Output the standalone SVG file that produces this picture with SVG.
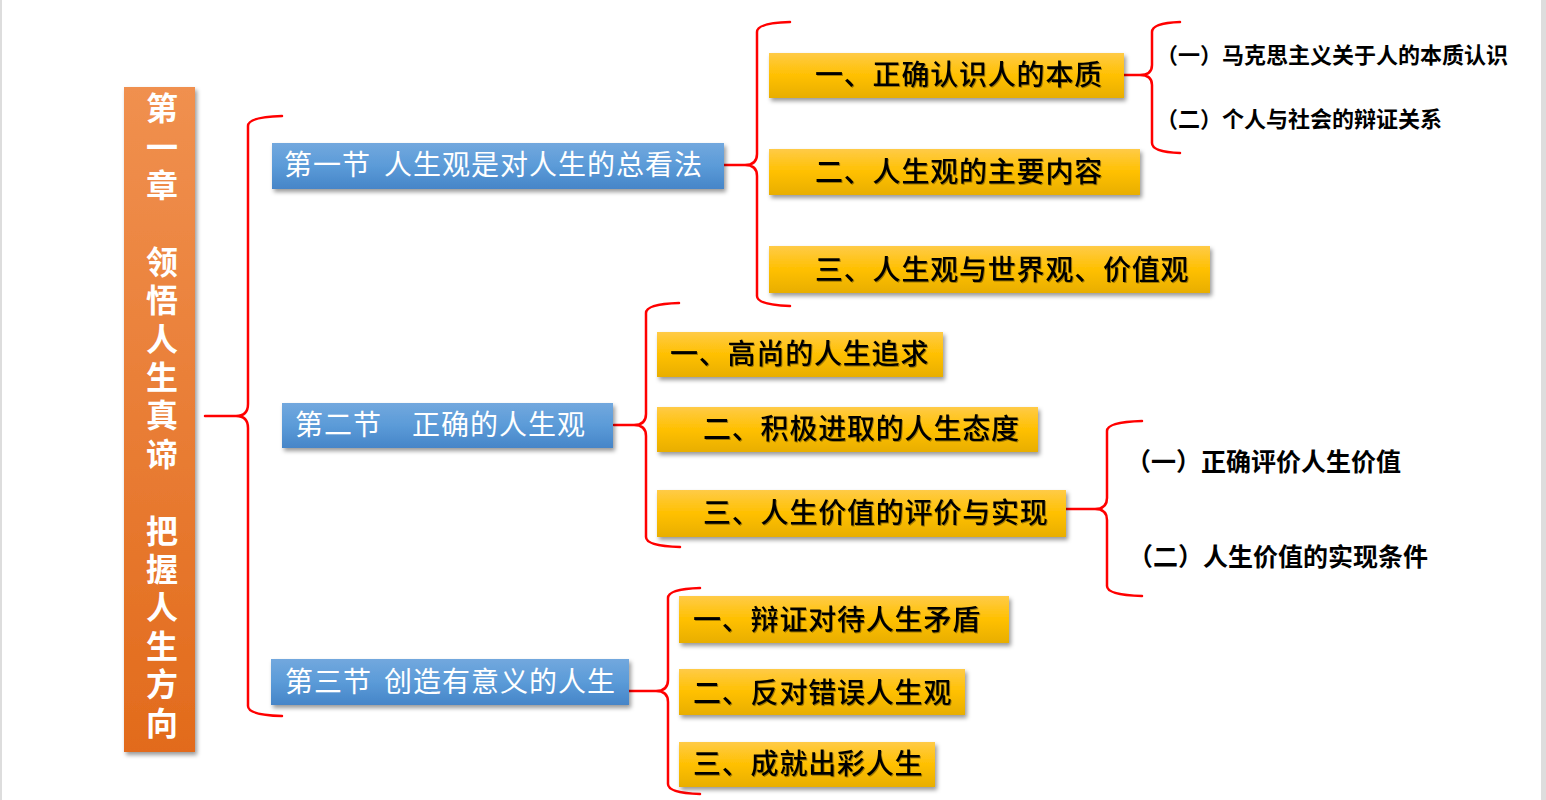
<svg xmlns="http://www.w3.org/2000/svg" width="1546" height="800" viewBox="0 0 1546 800">
<defs>
<linearGradient id="gOrange" x1="0" y1="0" x2="0" y2="1">
<stop offset="0" stop-color="#F0904F"/>
<stop offset="1" stop-color="#E26B1C"/>
</linearGradient>
<linearGradient id="gBlue" x1="0" y1="0" x2="0" y2="1">
<stop offset="0" stop-color="#72A8DE"/>
<stop offset="0.5" stop-color="#5B9BD8"/>
<stop offset="1" stop-color="#4685C8"/>
</linearGradient>
<linearGradient id="gYellow" x1="0" y1="0" x2="0" y2="1">
<stop offset="0" stop-color="#FFCB47"/>
<stop offset="0.5" stop-color="#FFC000"/>
<stop offset="1" stop-color="#E8AE00"/>
</linearGradient>
<filter id="sh" x="-10%" y="-20%" width="125%" height="160%">
<feDropShadow dx="2" dy="3" stdDeviation="2" flood-color="#000" flood-opacity="0.4"/>
</filter>
<filter id="tsh" x="-5%" y="-20%" width="110%" height="150%">
<feDropShadow dx="1" dy="1" stdDeviation="0.6" flood-color="#000" flood-opacity="0.35"/>
</filter>
</defs>
<style>
.br{fill:none;stroke:#FF0000;stroke-width:2.5;stroke-linecap:round;stroke-linejoin:round}
.or{fill:url(#gOrange);filter:url(#sh)}
.bl{fill:url(#gBlue);filter:url(#sh)}
.ye{fill:url(#gYellow);filter:url(#sh)}
.ot{font-family:"Noto Sans CJK SC","Noto Sans CJK JP",sans-serif;font-size:32px;font-weight:bold;fill:#FFFFFF;writing-mode:vertical-rl;letter-spacing:6.4px}
.bt{font-family:"Noto Sans CJK SC","Noto Sans CJK JP",sans-serif;font-size:28px;font-weight:400;fill:#FFFFFF;letter-spacing:1px}
.yt{font-family:"Noto Sans CJK SC","Noto Sans CJK JP",sans-serif;font-size:28px;font-weight:500;fill:#000000;letter-spacing:0.8px;filter:url(#tsh)}
.rt{font-family:"Noto Sans CJK SC","Noto Sans CJK JP",sans-serif;font-weight:bold;fill:#000000}
</style>
<rect x="0" y="0" width="1546" height="800" fill="#FFFFFF"/>
<rect x="0" y="0" width="2" height="800" fill="#DDDDDD"/>
<rect x="1541" y="0" width="5" height="800" fill="#DDDDDD"/>

<g id="connectors">
<path class="br" d="M205,416 L236,416 Q248,416 248,404 L248,126 Q248,117 282,116 M236,416 Q248,416 248,428 L248,706 Q248,715 282,716"/>
<path class="br" d="M724,165 L745,165 Q757,165 757,154 L757,32 Q757,23 790,22 M745,165 Q757,165 757,176 L757,296 Q757,305 790,306"/>
<path class="br" d="M1124,75 L1140,75 Q1152,75 1152,65 L1152,32 Q1152,23 1180,22 M1140,75 Q1152,75 1152,85 L1152,143 Q1152,152 1180,153"/>
<path class="br" d="M614,425 L634,425 Q646,425 646,414 L646,313 Q646,304 679,303 M634,425 Q646,425 646,436 L646,537 Q646,546 680,547"/>
<path class="br" d="M1066,509 L1095,509 Q1107,509 1107,498 L1107,431 Q1107,422 1142,421 M1095,509 Q1107,509 1107,520 L1107,586 Q1107,595 1142,596"/>
<path class="br" d="M629,691 L656,691 Q668,691 668,680 L668,598 Q668,589 700,588 M656,691 Q668,691 668,702 L668,784 Q668,793 700,794"/>
</g>

<g id="chapter">
<rect class="or" x="124" y="87" width="71" height="665"/>
<text class="ot" x="162" y="92">第一章　领悟人生真谛　把握人生方向</text>
</g>

<g id="sec1">
<rect class="bl" x="272" y="143" width="452" height="46"/>
<text class="bt" x="284" y="175">第一节<tspan x="384">人生观是对人生的总看法</tspan></text>
</g>
<g id="sec2">
<rect class="bl" x="282" y="403" width="331" height="45"/>
<text class="bt" x="295" y="435">第二节<tspan x="412">正确的人生观</tspan></text>
</g>
<g id="sec3">
<rect class="bl" x="271" y="659" width="358" height="46"/>
<text class="bt" x="285" y="692">第三节<tspan x="384">创造有意义的人生</tspan></text>
</g>

<g id="s1a">
<rect class="ye" x="769" y="53" width="355" height="45"/>
<text class="yt" x="815" y="85">一、正确认识人的本质</text>
</g>
<g id="s1b">
<rect class="ye" x="769" y="149" width="371" height="46"/>
<text class="yt" x="815" y="182">二、人生观的主要内容</text>
</g>
<g id="s1c">
<rect class="ye" x="769" y="246" width="441" height="47"/>
<text class="yt" x="815" y="280">三、人生观与世界观、价值观</text>
</g>

<g id="s2a">
<rect class="ye" x="657" y="332" width="286" height="45"/>
<text class="yt" x="670" y="364">一、高尚的人生追求</text>
</g>
<g id="s2b">
<rect class="ye" x="657" y="407" width="381" height="45"/>
<text class="yt" x="703" y="439">二、积极进取的人生态度</text>
</g>
<g id="s2c">
<rect class="ye" x="657" y="490" width="409" height="47"/>
<text class="yt" x="703" y="523">三、人生价值的评价与实现</text>
</g>

<g id="s3a">
<rect class="ye" x="679" y="596" width="330" height="47"/>
<text class="yt" x="693" y="630">一、辩证对待人生矛盾</text>
</g>
<g id="s3b">
<rect class="ye" x="679" y="669" width="286" height="46"/>
<text class="yt" x="693" y="703">二、反对错误人生观</text>
</g>
<g id="s3c">
<rect class="ye" x="679" y="742" width="256" height="45"/>
<text class="yt" x="693" y="774">三、成就出彩人生</text>
</g>

<g id="t1a">
<text class="rt" x="1156" y="63" font-size="22">（一）马克思主义关于人的本质认识</text>
</g>
<g id="t1b">
<text class="rt" x="1156" y="127" font-size="22">（二）个人与社会的辩证关系</text>
</g>
<g id="t2a">
<text class="rt" x="1126" y="471" font-size="25">（一）正确评价人生价值</text>
</g>
<g id="t2b">
<text class="rt" x="1128" y="566" font-size="25">（二）人生价值的实现条件</text>
</g>
</svg>
